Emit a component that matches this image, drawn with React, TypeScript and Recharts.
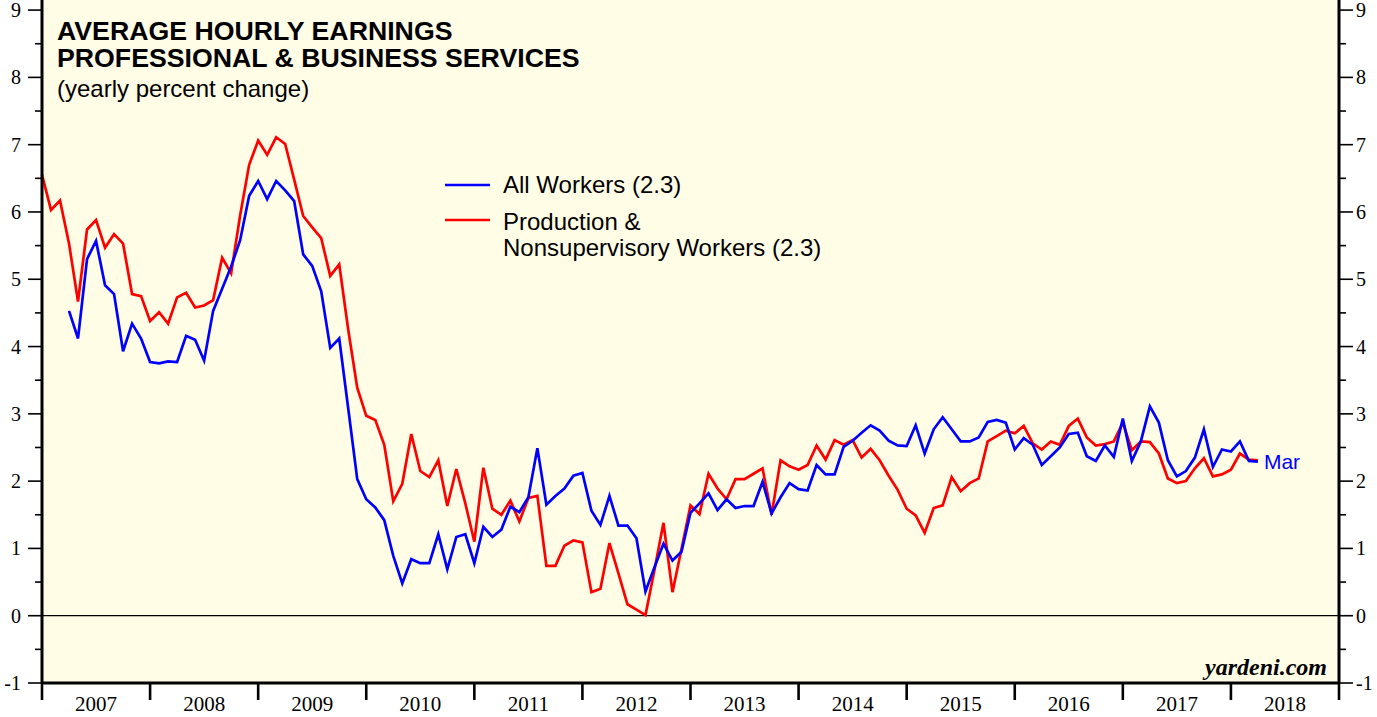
import React from 'react'
import { LineChart, Line, XAxis, YAxis, CartesianGrid, ReferenceLine, LabelList } from 'recharts'

// months counted from Dec 2006 (0) to Dec 2018 (144)
const years = ['2007', '2008', '2009', '2010', '2011', '2012', '2013', '2014', '2015', '2016', '2017', '2018']

// Production & Nonsupervisory Workers, Dec 2006 - Mar 2018
const prodWorkers = [
  6.55,
  6.03, 6.17, 5.53, 4.67, 5.74, 5.88, 5.47, 5.67, 5.53, 4.78, 4.75, 4.38,
  4.51, 4.34, 4.73, 4.80, 4.58, 4.61, 4.69, 5.32, 5.09, 5.95, 6.70, 7.06,
  6.85, 7.11, 7.01, 6.48, 5.94, 5.77, 5.61, 5.05, 5.22, 4.25, 3.39, 2.97,
  2.91, 2.54, 1.70, 1.96, 2.70, 2.15, 2.06, 2.31, 1.63, 2.18, 1.67, 1.10,
  2.20, 1.59, 1.50, 1.71, 1.40, 1.75, 1.78, 0.74, 0.74, 1.04, 1.12, 1.09,
  0.35, 0.40, 1.08, 0.63, 0.17, 0.09, 0.01, 0.68, 1.38, 0.35, 0.99, 1.64,
  1.51, 2.11, 1.89, 1.73, 2.03, 2.03, 2.11, 2.19, 1.50, 2.31, 2.22, 2.17,
  2.24, 2.53, 2.32, 2.61, 2.54, 2.61, 2.35, 2.48, 2.31, 2.08, 1.87, 1.59,
  1.49, 1.23, 1.60, 1.64, 2.06, 1.85, 1.97, 2.04, 2.59, 2.67, 2.75, 2.71,
  2.82, 2.56, 2.47, 2.59, 2.54, 2.82, 2.93, 2.65, 2.53, 2.55, 2.59, 2.87,
  2.46, 2.59, 2.58, 2.41, 2.04, 1.97, 2.00, 2.19, 2.34, 2.07, 2.10, 2.17,
  2.41, 2.32, 2.31,
]

// All Workers, Mar 2007 - Mar 2018
const allStart = 3
const allWorkers = [
  4.53, 4.12, 5.30, 5.57, 4.91, 4.78, 3.93, 4.34, 4.12, 3.77,
  3.75, 3.78, 3.77, 4.16, 4.10, 3.79, 4.53, 4.86, 5.19, 5.58, 6.24, 6.46,
  6.19, 6.46, 6.32, 6.16, 5.37, 5.20, 4.82, 3.98, 4.12, 3.08, 2.03, 1.73,
  1.61, 1.42, 0.89, 0.48, 0.84, 0.78, 0.78, 1.21, 0.69, 1.17, 1.21, 0.78,
  1.32, 1.17, 1.28, 1.62, 1.54, 1.76, 2.49, 1.65, 1.78, 1.89, 2.08, 2.12,
  1.56, 1.35, 1.78, 1.34, 1.34, 1.15, 0.36, 0.72, 1.07, 0.82, 0.95, 1.53,
  1.67, 1.82, 1.57, 1.73, 1.60, 1.63, 1.63, 1.99, 1.52, 1.76, 1.97, 1.88,
  1.86, 2.24, 2.10, 2.10, 2.51, 2.60, 2.72, 2.83, 2.75, 2.60, 2.53, 2.52,
  2.83, 2.41, 2.77, 2.95, 2.77, 2.59, 2.59, 2.65, 2.88, 2.91, 2.87, 2.47,
  2.64, 2.54, 2.24, 2.37, 2.50, 2.70, 2.72, 2.37, 2.30, 2.53, 2.36, 2.93,
  2.30, 2.59, 3.11, 2.87, 2.31, 2.07, 2.15, 2.35, 2.77, 2.21, 2.47, 2.44,
  2.59, 2.30, 2.29,
]

const data = prodWorkers.map((v, i) => ({
  m: i,
  prod: v,
  all: i >= allStart ? allWorkers[i - allStart] : null,
}))

const xTicks = Array.from({ length: 25 }, (_, i) => i * 6)
const yTicks = Array.from({ length: 21 }, (_, i) => -1 + i * 0.5)

const serif = '"Liberation Serif", "Times New Roman", serif'
const sans = '"Liberation Sans", Arial, Helvetica, sans-serif'
const BLUE = '#0000FF'
const RED = '#FF0000'

const LeftTick = ({ x, y, payload }: any) => {
  const major = Number.isInteger(payload.value)
  return (
    <g>
      <line x1={x - (major ? 14 : 7)} x2={x} y1={y} y2={y} stroke="#000" strokeWidth={1.6} />
      {major && (
        <text x={x - 21} y={y} dy="0.35em" textAnchor="end" fontFamily={serif} fontSize={20} fill="#000">
          {payload.value}
        </text>
      )}
    </g>
  )
}

const RightTick = ({ x, y, payload }: any) => {
  const major = Number.isInteger(payload.value)
  return (
    <g>
      <line x1={x} x2={x + (major ? 14 : 7)} y1={y} y2={y} stroke="#000" strokeWidth={1.6} />
      {major && (
        <text x={x + 17} y={y} dy="0.35em" textAnchor="start" fontFamily={serif} fontSize={20} fill="#000">
          {payload.value}
        </text>
      )}
    </g>
  )
}

const YearTick = ({ x, y, payload }: any) => {
  const m = payload.value
  if (m % 12 === 0) return <line x1={x} x2={x} y1={y} y2={y + 17} stroke="#000" strokeWidth={2.6} />
  return (
    <text x={x} y={y + 28} textAnchor="middle" fontFamily={serif} fontSize={21} fill="#000">
      {years[(m - 6) / 12]}
    </text>
  )
}

const MarLabel = (p: any) =>
  p.index === data.length - 1 ? (
    <text x={p.x + 6} y={p.y} dy="0.35em" fill={BLUE} fontFamily={sans} fontSize={21}>Mar</text>
  ) : null

const App: React.FC = () => (
  <div style={{ position: 'absolute', left: 0, top: 0, width: 1377, height: 717, background: '#fff' }}>
    <LineChart width={1377} height={717} data={data} margin={{ top: 0, right: 0, bottom: 0, left: 0 }}>
      <CartesianGrid fill="#FFFDE6" stroke="none" horizontal={false} vertical={false} />
      <XAxis dataKey="m" type="number" domain={[0, 144]} ticks={xTicks} interval={0} height={34}
        tickSize={0} tickMargin={0} tick={<YearTick />} axisLine={{ stroke: '#000', strokeWidth: 3 }} />
      <YAxis type="number" domain={[-1, 9.15]} ticks={yTicks} interval={0} width={42} allowDataOverflow
        tickSize={0} tickMargin={0} tick={<LeftTick />} axisLine={{ stroke: '#000', strokeWidth: 3 }} />
      <YAxis yAxisId="r" orientation="right" type="number" domain={[-1, 9.15]} ticks={yTicks} interval={0}
        width={38} allowDataOverflow tickSize={0} tickMargin={0} tick={<RightTick />}
        axisLine={{ stroke: '#000', strokeWidth: 3 }} />
      <ReferenceLine y={0} stroke="#000" strokeWidth={1.2} />
      <Line type="linear" dataKey="prod" stroke={RED} strokeWidth={2.7} dot={false} isAnimationActive={false} />
      <Line type="linear" dataKey="all" stroke={BLUE} strokeWidth={2.7} dot={false} isAnimationActive={false}>
        <LabelList dataKey="all" content={MarLabel} />
      </Line>
    </LineChart>
    <svg width={1377} height={717} style={{ position: 'absolute', left: 0, top: 0, pointerEvents: 'none' }}>
      <text x={57} y={40} fontFamily={sans} fontWeight="bold" fontSize={26.7}>AVERAGE HOURLY EARNINGS</text>
      <text x={57} y={67} fontFamily={sans} fontWeight="bold" fontSize={26.7}>PROFESSIONAL &amp; BUSINESS SERVICES</text>
      <text x={57} y={97} fontFamily={sans} fontSize={24}>(yearly percent change)</text>
      <line x1={445} x2={490} y1={185} y2={185} stroke={BLUE} strokeWidth={2.7} />
      <text x={503} y={193} fontFamily={sans} fontSize={24}>All Workers (2.3)</text>
      <line x1={445} x2={490} y1={220} y2={220} stroke={RED} strokeWidth={2.7} />
      <text x={503} y={230} fontFamily={sans} fontSize={24}>Production &amp;</text>
      <text x={503} y={256} fontFamily={sans} fontSize={24}>Nonsupervisory Workers (2.3)</text>
      <text x={1327} y={675} textAnchor="end" fontFamily={serif} fontWeight="bold" fontStyle="italic" fontSize={24}>yardeni.com</text>
    </svg>
  </div>
)

export default App
